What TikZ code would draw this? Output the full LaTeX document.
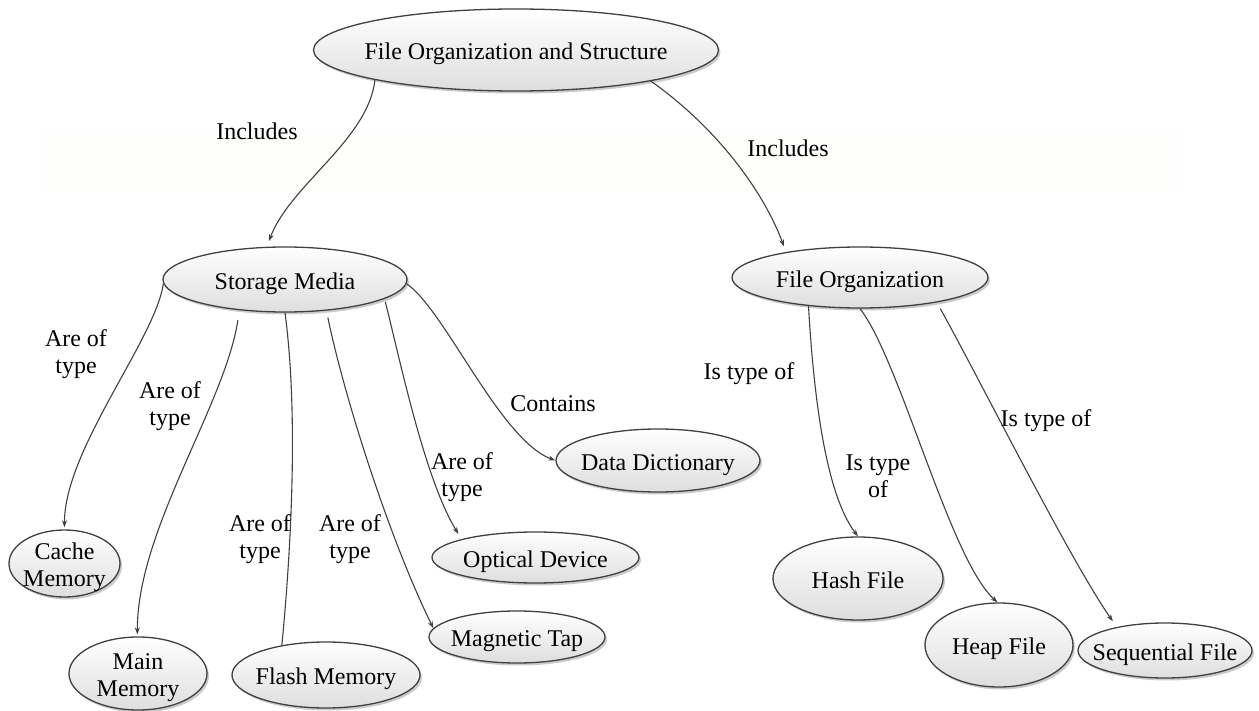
\documentclass[tikz,border=0pt]{standalone}
\usepackage{fontspec}
\setmainfont{Liberation Serif}
\usetikzlibrary{shapes.geometric,arrows.meta,shadows}
\definecolor{linegray}{RGB}{64,64,64}
\definecolor{fillbot}{RGB}{222,222,222}
\definecolor{bandcol}{RGB}{254,254,252}
\newcommand{\zbox}[1]{\makebox[0pt]{\raisebox{-0.44em}[0pt][0pt]{\begin{tabular}{@{}c@{}}#1\end{tabular}}}}
\begin{document}
\begin{tikzpicture}[x=1pt,y=-1pt,
  every node/.style={font=\fontsize{24}{27}\selectfont},
  ell/.style={ellipse, draw=linegray, line width=1.3pt, inner sep=0pt,
    top color=white, bottom color=fillbot,
    drop shadow={shadow xshift=2pt, shadow yshift=-2.5pt, fill=black!45, opacity=0.45}},
  lbl/.style={inner sep=0pt, align=center},
  edge/.style={draw=linegray, line width=1.1pt, -{Stealth[length=7pt,width=5pt]}},
  plain/.style={draw=linegray, line width=1.1pt}]
\useasboundingbox (0,0) rectangle (1259,711);
\fill[bandcol] (44,130) rectangle (1178,192);

\node[ell, minimum width=405pt, minimum height=82pt] (fos) at (516,50) {\zbox{File Organization and Structure}};
\node[ell, minimum width=244pt, minimum height=65pt] (sm) at (285,279.5) {\zbox{Storage Media}};
\node[ell, minimum width=256pt, minimum height=61pt] (fo) at (860,277.5) {\zbox{File Organization}};
\node[ell, minimum width=204pt, minimum height=63pt] (dd) at (658,460.5) {\zbox{Data Dictionary}};
\node[ell, minimum width=207pt, minimum height=51pt] (opt) at (535.5,557.5) {\zbox{Optical Device}};
\node[ell, minimum width=176pt, minimum height=52pt] (mag) at (517,637) {\zbox{Magnetic Tap}};
\node[ell, minimum width=188pt, minimum height=66pt] (flash) at (326,675) {\zbox{Flash Memory}};
\node[ell, minimum width=138pt, minimum height=73pt] (main) at (138,673.5) {\zbox{Main\\Memory}};
\node[ell, minimum width=111pt, minimum height=67pt] (cache) at (64.5,563.5) {\zbox{Cache\\Memory}};
\node[ell, minimum width=170pt, minimum height=83pt] (hash) at (858,578.5) {\zbox{Hash File}};
\node[ell, minimum width=148pt, minimum height=84pt] (heap) at (999,645) {\zbox{Heap File}};
\node[ell, minimum width=174pt, minimum height=55pt] (seq) at (1165,650.5) {\zbox{Sequential File}};

\draw[edge, shorten >=6pt] (fos.-168) .. controls (368,140) and (290,185) .. (sm.119);
\draw[edge, shorten >=6pt] (fos.-13) .. controls (720,130) and (765,195) .. (fo.161);
\draw[edge, shorten >=2pt] (sm.-178) .. controls (155,340) and (64,450) .. (cache.90);
\draw[edge, shorten <=10pt, shorten >=2pt] (sm.-146) .. controls (225,405) and (137,530) .. (main.91);
\draw[plain] (sm.-90) .. controls (298,410) and (292,540) .. (flash.146);
\draw[edge, shorten <=7pt] (sm.-37.5) .. controls (345,400) and (390,540) .. (mag.174);
\draw[edge, shorten <=3pt, shorten >=6pt] (sm.-11) .. controls (400,360) and (425,480) .. (opt.166);
\draw[edge] (sm.-2) .. controls (445,310) and (500,440) .. (dd.180);
\draw[edge] (fo.-151) .. controls (815,420) and (830,500) .. (hash.90);
\draw[edge] (fo.-90) .. controls (900,360) and (950,560) .. (heap.92);
\draw[edge, shorten <=7pt, shorten >=7pt] (fo.-18) .. controls (980,380) and (1070,560) .. (seq.154);

\node[lbl] (inc1) at (257,131) {Includes};
\node[lbl] (inc2) at (788,148) {Includes};
\node[lbl] (t1) at (76,354) {Are of\\type};
\node[lbl] (t2) at (170,406) {Are of\\type};
\node[lbl] (t3) at (260,539) {Are of\\type};
\node[lbl] (t4) at (350,539) {Are of\\type};
\node[lbl] (t5) at (462,477) {Are of\\type};
\node[lbl] (cont) at (553,404) {Contains};
\node[lbl] (i1) at (749,374) {Is type of};
\node[lbl] (i2) at (878,476) {Is type\\of};
\node[lbl] (i3) at (1046,421) {Is type of};
\end{tikzpicture}
\end{document}
